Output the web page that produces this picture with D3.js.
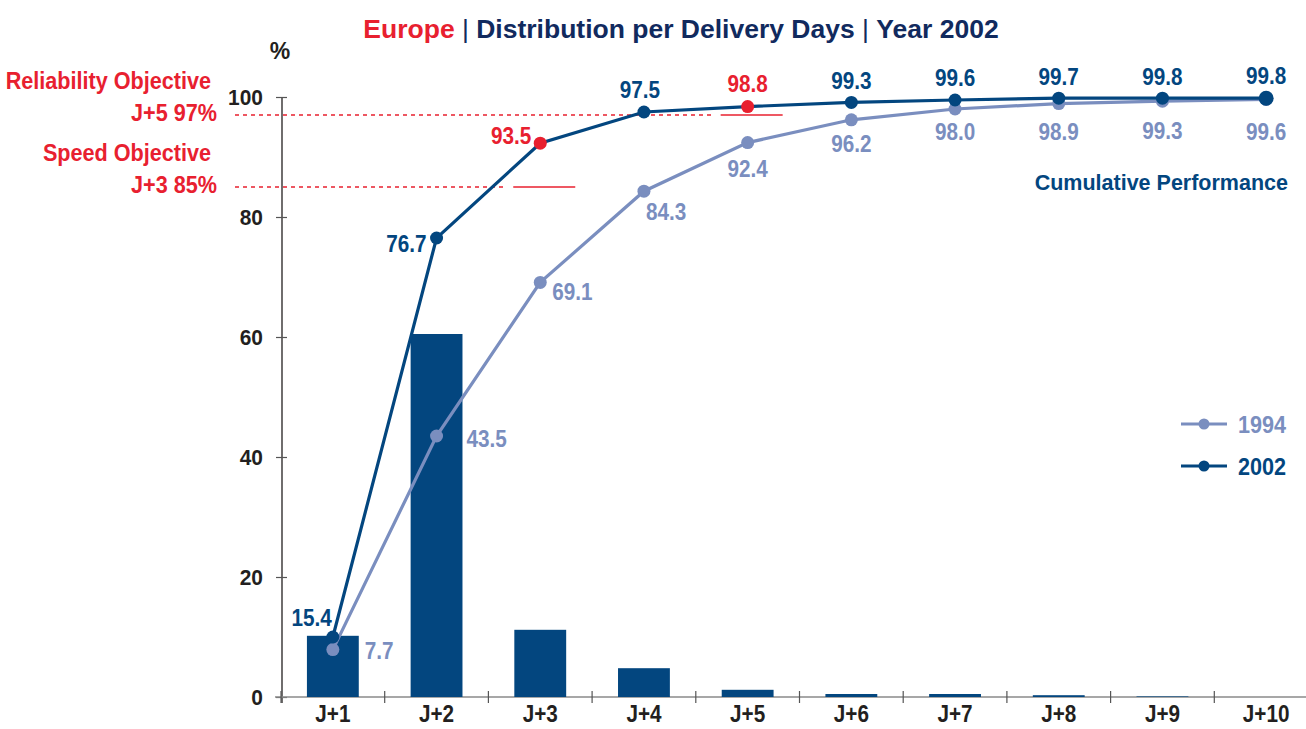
<!DOCTYPE html>
<html>
<head>
<meta charset="utf-8">
<script src="https://cdn.jsdelivr.net/npm/d3@7/dist/d3.min.js"></script>
<style>
  html, body { margin: 0; padding: 0; background: #fff; }
  svg { display: block; }
  text { font-family: "Liberation Sans", Arial, sans-serif; font-weight: bold; }
</style>
</head>
<body>
<svg id="chart" width="1306" height="729"></svg>
<script>
// ---------------- DATA ----------------
const days = ["J+1", "J+2", "J+3", "J+4", "J+5", "J+6", "J+7", "J+8", "J+9", "J+10"];
// daily distribution 2002 (bars, as drawn)
const daily2002 = [10.2, 60.5, 11.2, 4.8, 1.2, 0.5, 0.5, 0.3, 0.1, 0];
// cumulative performance (points as drawn) and their printed labels
const cum1994 = [7.9, 43.5, 69.1, 84.3, 92.4, 96.2, 98.0, 98.9, 99.3, 99.6];
const cum1994Labels = ["7.7", "43.5", "69.1", "84.3", "92.4", "96.2", "98.0", "98.9", "99.3", "99.6"];
const cum2002 = [10.0, 76.5, 92.3, 97.5, 98.4, 99.1, 99.5, 99.8, 99.8, 99.8];
const cum2002Labels = ["15.4", "76.7", "93.5", "97.5", "98.8", "99.3", "99.6", "99.7", "99.8", "99.8"];
const yTicks = [0, 20, 40, 60, 80, 100];
const objectiveNames = ["Reliability Objective", "Speed Objective"];
const objectiveDays = ["J+5", "J+3"];
const objectiveValues = [97, 85];
const seriesNames = ["1994", "2002"];

// ---------------- STYLE ----------------
const RED = "#e8202f";
const DARK = "#03467f";
const LIGHT = "#7a8ebf";
const NAVY = "#112a5e";
const INK = "#231f20";
const FONT = "'Liberation Sans', Arial, sans-serif";

const svg = d3.select("#chart");

const x = d3.scaleBand().domain(days).range([281, 1318]).padding(0);
const y = d3.scaleLinear().domain([0, 100]).range([697, 97]);
const cx = d => x(d) + x.bandwidth() / 2;

function condense(sel, k) {
  sel.each(function () {
    const l = this.getComputedTextLength();
    d3.select(this).attr("textLength", l * k).attr("lengthAdjust", "spacingAndGlyphs");
  });
}

// ---------------- TITLE ----------------
const title = svg.append("text").attr("x", 681).attr("y", 38)
  .attr("text-anchor", "middle").style("font-size", "26.5px");
title.append("tspan").attr("fill", RED).text("Europe");
title.append("tspan").attr("fill", NAVY).style("font-weight", "normal").text(" | ");
title.append("tspan").attr("fill", NAVY).text("Distribution per Delivery Days");
title.append("tspan").attr("fill", NAVY).style("font-weight", "normal").text(" | ");
title.append("tspan").attr("fill", NAVY).text("Year 2002");

svg.append("text").attr("x", 280).attr("y", 59).attr("text-anchor", "middle")
  .attr("fill", INK).style("font-size", "23px").text("%");

// ---------------- AXES ----------------
const yAxis = d3.axisLeft(y).tickValues(yTicks).tickSize(6).tickPadding(13);
const gy = svg.append("g").attr("transform", "translate(282,0)").call(yAxis);
gy.select(".domain").attr("stroke", INK).attr("stroke-width", 1.3).attr("d", "M0,97V703");
gy.selectAll(".tick line").attr("x2", -6).attr("x1", 5).attr("stroke", "#555").attr("stroke-width", 1.2);
gy.selectAll(".tick text").attr("fill", INK).style("font-size", "22px")
  .style("font-family", FONT).style("font-weight", "bold");

const xAxis = d3.axisBottom(x).tickSize(0).tickPadding(9);
const gx = svg.append("g").attr("transform", "translate(0,697)").call(xAxis);
gx.select(".domain").attr("stroke", "#8a8a8a").attr("stroke-width", 1.6).attr("d", "M275,0H1306");
gx.selectAll(".tick text").attr("fill", INK).style("font-size", "23px")
  .style("font-family", FONT).style("font-weight", "bold");
// band boundary ticks
svg.append("g").selectAll("line").data(days).join("line")
  .attr("x1", d => x(d)).attr("x2", d => x(d))
  .attr("y1", 691).attr("y2", 703).attr("stroke", "#555").attr("stroke-width", 1.2);

// ---------------- BARS ----------------
const barW = x.bandwidth() * 0.5;
svg.append("g").selectAll("rect").data(days).join("rect")
  .attr("x", d => cx(d) - barW / 2)
  .attr("y", (d, i) => y(daily2002[i]))
  .attr("width", barW)
  .attr("height", (d, i) => y(0) - y(daily2002[i]))
  .attr("fill", DARK);

// ---------------- OBJECTIVES ----------------
const obj = svg.append("g");
objectiveValues.forEach((v, i) => {
  const yy = y(v);
  const c = cx(objectiveDays[i]);
  obj.append("line").attr("x1", 235).attr("x2", c - 34).attr("y1", yy).attr("y2", yy)
    .attr("stroke", RED).attr("stroke-width", 1.5).attr("stroke-dasharray", "4,4");
  obj.append("line").attr("x1", c - 27).attr("x2", c + 35).attr("y1", yy).attr("y2", yy)
    .attr("stroke", RED).attr("stroke-width", 1.6);
  obj.append("text").attr("class", "cd").attr("x", 211).attr("y", yy - 26).attr("text-anchor", "end")
    .attr("fill", RED).style("font-size", "24px").text(objectiveNames[i]);
  obj.append("text").attr("class", "cd").attr("x", 217).attr("y", yy + 6).attr("text-anchor", "end")
    .attr("fill", RED).style("font-size", "24px").text(objectiveDays[i] + " " + v + "%");
});

// ---------------- LINES ----------------
const line = d3.line().x((d, i) => cx(days[i])).y(d => y(d));

svg.append("path").datum(cum1994).attr("d", line).attr("fill", "none")
  .attr("stroke", LIGHT).attr("stroke-width", 3.2);
svg.append("g").selectAll("circle").data(cum1994).join("circle")
  .attr("cx", (d, i) => cx(days[i])).attr("cy", d => y(d)).attr("r", 6.5).attr("fill", LIGHT);

svg.append("path").datum(cum2002).attr("d", line).attr("fill", "none")
  .attr("stroke", DARK).attr("stroke-width", 3.2);
const isObj = i => days[i] === objectiveDays[0] || days[i] === objectiveDays[1];
svg.append("g").selectAll("circle").data(cum2002).join("circle")
  .attr("cx", (d, i) => cx(days[i])).attr("cy", d => y(d))
  .attr("r", (d, i) => i === days.length - 1 ? 7.5 : 6.5)
  .attr("fill", (d, i) => isObj(i) ? RED : DARK);

// ---------------- VALUE LABELS ----------------
// layout: [anchor, dx, dy(center offset)]
const place2002 = [["end", -1, -19], ["end", -10, 6], ["end", -9, -7], ["middle", -4, -22],
  ["middle", 0, -23], ["middle", 0, -22], ["middle", 0, -22], ["middle", 0, -21], ["middle", 0, -21], ["middle", 0, -22]];
const place1994 = [["start", 32, 1], ["start", 30, 3], ["start", 12, 9], ["start", 2, 21],
  ["middle", 0, 26], ["middle", 0, 24], ["middle", 0, 23], ["middle", 0, 28], ["middle", 0, 30], ["middle", 0, 32]];

svg.append("g").selectAll("text").data(cum1994Labels).join("text").attr("class", "cd")
  .attr("x", (d, i) => cx(days[i]) + place1994[i][1])
  .attr("y", (d, i) => y(cum1994[i]) + place1994[i][2])
  .attr("dy", "0.36em")
  .attr("text-anchor", (d, i) => place1994[i][0])
  .attr("fill", LIGHT).style("font-size", "23px").text(d => d);

svg.append("g").selectAll("text").data(cum2002Labels).join("text").attr("class", "cd")
  .attr("x", (d, i) => cx(days[i]) + place2002[i][1])
  .attr("y", (d, i) => y(cum2002[i]) + place2002[i][2])
  .attr("dy", "0.36em")
  .attr("text-anchor", (d, i) => place2002[i][0])
  .attr("fill", (d, i) => isObj(i) ? RED : DARK)
  .style("font-size", "23px").text(d => d);

svg.append("text").attr("x", 1288).attr("y", 182).attr("dy", "0.36em").attr("text-anchor", "end")
  .attr("fill", DARK).style("font-size", "21.5px").text("Cumulative Performance");

// ---------------- LEGEND ----------------
const legend = svg.append("g");
[LIGHT, DARK].forEach((col, i) => {
  const ly = 424 + i * 42;
  legend.append("line").attr("x1", 1181).attr("x2", 1227).attr("y1", ly).attr("y2", ly)
    .attr("stroke", col).attr("stroke-width", 3);
  legend.append("circle").attr("cx", 1204).attr("cy", ly).attr("r", 5.5).attr("fill", col);
  legend.append("text").attr("class", "cd").attr("x", 1238).attr("y", ly).attr("dy", "0.36em")
    .attr("fill", col).style("font-size", "24px").text(seriesNames[i]);
});

condense(svg.selectAll("text.cd"), 0.9);
condense(gx.selectAll(".tick text"), 0.9);
condense(gy.selectAll(".tick text"), 0.95);
</script>
</body>
</html>
